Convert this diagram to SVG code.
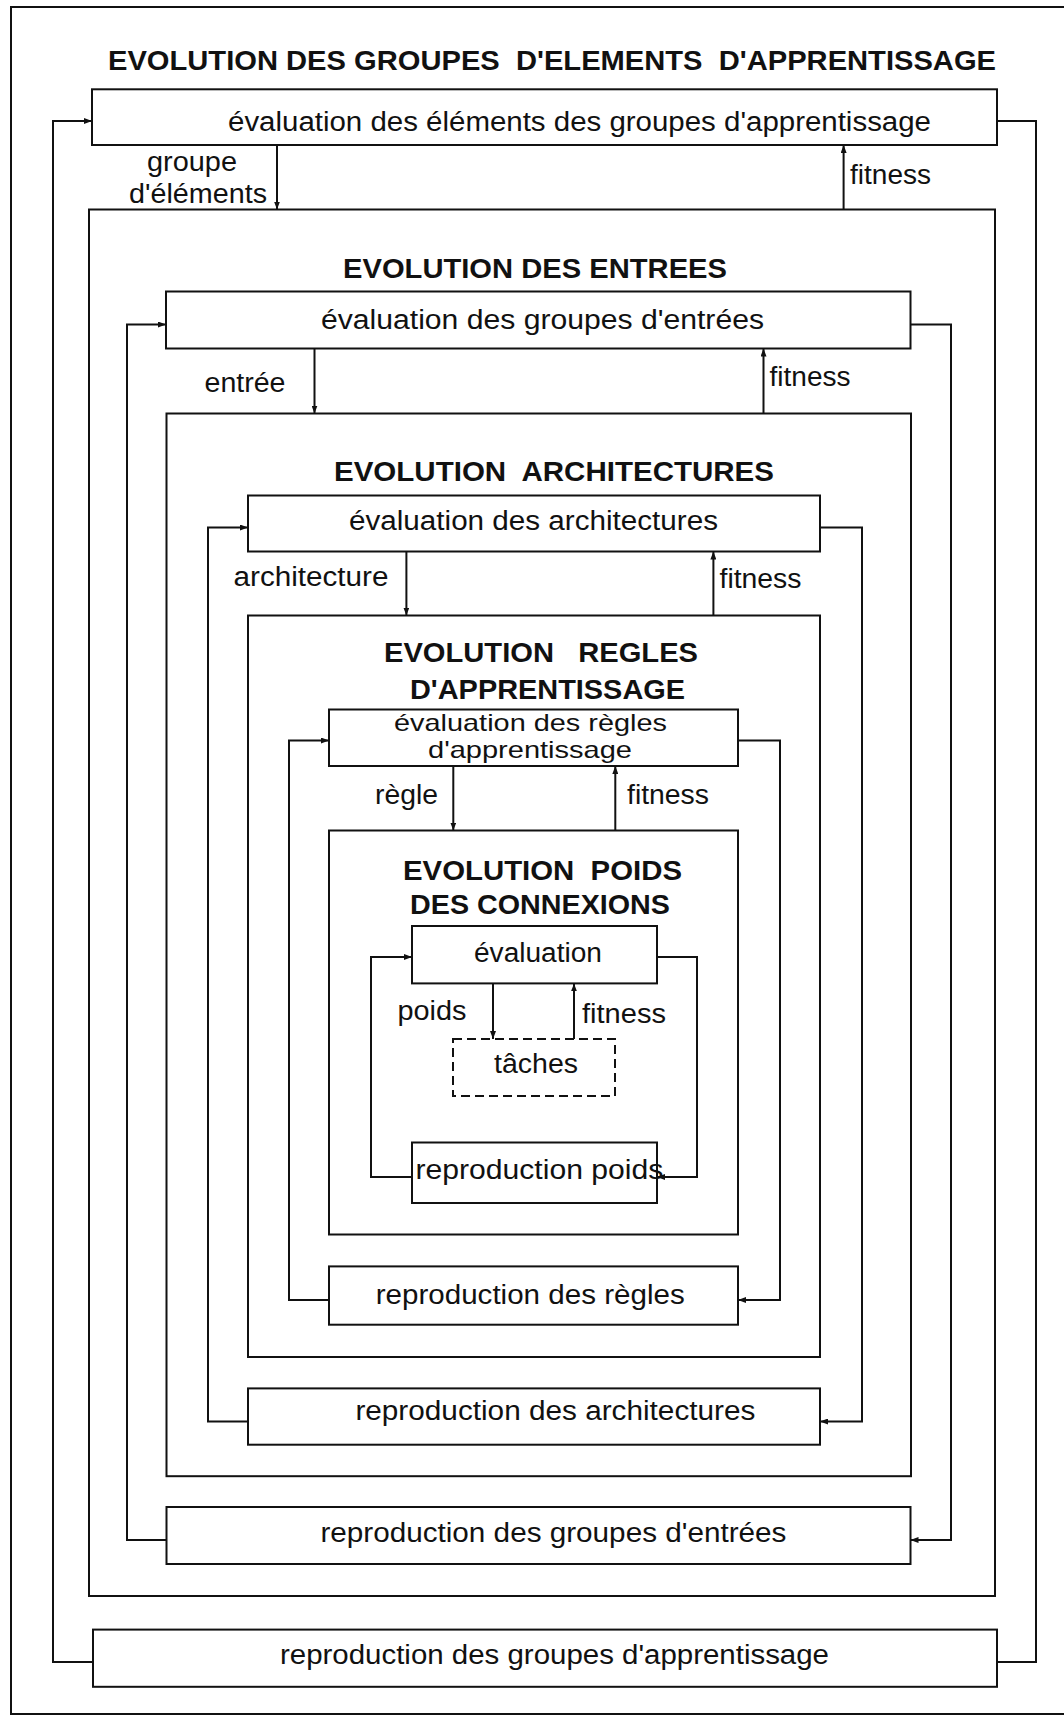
<svg xmlns="http://www.w3.org/2000/svg" width="1064" height="1718" viewBox="0 0 1064 1718">
  <style>
    .box { fill: none; stroke: #111; stroke-width: 2; }
    .dash { fill: none; stroke: #111; stroke-width: 2; stroke-dasharray: 9 5; }
    .con { fill: none; stroke: #111; stroke-width: 2; }
    .arr { marker-end: url(#ah); }
    text { font-family: "Liberation Sans", Arial, sans-serif; fill: #111; }
    .t { font-size: 27px; }
    .s { font-size: 24px; }
    .h { font-size: 28px; font-weight: bold; }
  </style>
  <defs>
    <marker id="ah" viewBox="0 0 8 6" refX="8" refY="3" markerWidth="8" markerHeight="6" markerUnits="userSpaceOnUse" orient="auto">
      <path d="M0,0 L8,3 L0,6 z" fill="#111"/>
    </marker>
  </defs>
  <rect x="0" y="0" width="1064" height="1718" fill="#fff"/>
  <!-- page frame (right edge runs off the sheet) -->
  <rect id="frame" class="box" x="11" y="7" width="1060" height="1707"/>

  <!-- level 1: groups of learning elements -->
  <g id="lvl1">
    <text class="h" x="108" y="70" textLength="888" lengthAdjust="spacingAndGlyphs" xml:space="preserve">EVOLUTION DES GROUPES  D'ELEMENTS  D'APPRENTISSAGE</text>
  </g>
  <g id="eval-elements">
    <rect class="box" x="92" y="89.3" width="905" height="55.7"/>
    <text class="t" x="228" y="131" textLength="703" lengthAdjust="spacingAndGlyphs">évaluation des éléments des groupes d'apprentissage</text>
  </g>
  <g id="repro-apprentissage">
    <rect class="box" x="93" y="1629.6" width="904" height="57.2"/>
    <text class="t" x="280" y="1663.5" textLength="549" lengthAdjust="spacingAndGlyphs">reproduction des groupes d'apprentissage</text>
  </g>

  <!-- level 2: inputs -->
  <g id="lvl2">
    <rect class="box" x="89" y="209.5" width="906" height="1386.5"/>
    <text class="h" x="343" y="277.5" textLength="384" lengthAdjust="spacingAndGlyphs">EVOLUTION DES ENTREES</text>
  </g>
  <g id="eval-entrees">
    <rect class="box" x="166" y="291.5" width="744.5" height="57"/>
    <text class="t" x="321" y="329" textLength="443" lengthAdjust="spacingAndGlyphs">évaluation des groupes d'entrées</text>
  </g>
  <g id="repro-entrees">
    <rect class="box" x="166.5" y="1507" width="744" height="57"/>
    <text class="t" x="320.4" y="1542" textLength="466" lengthAdjust="spacingAndGlyphs">reproduction des groupes d'entrées</text>
  </g>

  <!-- level 3: architectures -->
  <g id="lvl3">
    <rect class="box" x="166.5" y="413.5" width="744.5" height="1062.7"/>
    <text class="h" x="334" y="481.4" textLength="440" lengthAdjust="spacingAndGlyphs" xml:space="preserve">EVOLUTION  ARCHITECTURES</text>
  </g>
  <g id="eval-arch">
    <rect class="box" x="248" y="495.5" width="572" height="56"/>
    <text class="t" x="349" y="530" textLength="369" lengthAdjust="spacingAndGlyphs">évaluation des architectures</text>
  </g>
  <g id="repro-arch">
    <rect class="box" x="248" y="1388.4" width="572" height="56.3"/>
    <text class="t" x="355.4" y="1419.6" textLength="400" lengthAdjust="spacingAndGlyphs">reproduction des architectures</text>
  </g>

  <!-- level 4: learning rules -->
  <g id="lvl4">
    <rect class="box" x="248" y="615.5" width="572" height="741.5"/>
    <text class="h" x="384" y="661.5" textLength="314" lengthAdjust="spacingAndGlyphs" xml:space="preserve">EVOLUTION   REGLES</text>
    <text class="h" x="410" y="698.5" textLength="275" lengthAdjust="spacingAndGlyphs">D'APPRENTISSAGE</text>
  </g>
  <g id="eval-regles">
    <rect class="box" x="329" y="709.5" width="409" height="56.5"/>
    <text class="s" x="394" y="731" textLength="273" lengthAdjust="spacingAndGlyphs">évaluation des règles</text>
    <text class="s" x="428" y="758" textLength="204" lengthAdjust="spacingAndGlyphs">d'apprentissage</text>
  </g>
  <g id="repro-regles">
    <rect class="box" x="329" y="1266.4" width="409" height="58.3"/>
    <text class="t" x="375.7" y="1303.5" textLength="309" lengthAdjust="spacingAndGlyphs">reproduction des règles</text>
  </g>

  <!-- level 5: connection weights -->
  <g id="lvl5">
    <rect class="box" x="329" y="830.5" width="409" height="404"/>
    <text class="h" x="403" y="880.3" textLength="279" lengthAdjust="spacingAndGlyphs" xml:space="preserve">EVOLUTION  POIDS</text>
    <text class="h" x="410" y="914" textLength="260" lengthAdjust="spacingAndGlyphs">DES CONNEXIONS</text>
  </g>
  <g id="eval-poids">
    <rect class="box" x="412" y="926" width="245" height="57.4"/>
    <text class="t" x="474" y="961.7" textLength="128" lengthAdjust="spacingAndGlyphs">évaluation</text>
  </g>
  <g id="taches">
    <rect class="dash" x="453" y="1039" width="162" height="57"/>
    <text class="t" x="494" y="1073" textLength="84" lengthAdjust="spacingAndGlyphs">tâches</text>
  </g>
  <g id="repro-poids">
    <rect class="box" x="412" y="1142.5" width="245" height="60.5"/>
    <text class="t" x="415.4" y="1178.5" textLength="248" lengthAdjust="spacingAndGlyphs">reproduction poids</text>
  </g>

  <!-- connectors -->
  <g id="connectors">
    <path class="con arr" d="M277,145 V209.5"/>
    <path class="con arr" d="M843.6,209.5 V145"/>
    <path class="con arr" d="M93,1662 H53 V121 H92"/>
    <path class="con" d="M997,121 H1036 V1662 H997"/>

    <path class="con arr" d="M314.5,348.5 V413.5"/>
    <path class="con arr" d="M763.5,413.5 V348.5"/>
    <path class="con arr" d="M166.5,1540 H127 V324.5 H166"/>
    <path class="con arr" d="M910.5,324.5 H951 V1540 H910.5"/>

    <path class="con arr" d="M406.4,551.5 V615.5"/>
    <path class="con arr" d="M713.4,615.5 V551.5"/>
    <path class="con arr" d="M248,1421.5 H208 V527.5 H248"/>
    <path class="con arr" d="M820,527.5 H862 V1421.5 H820"/>

    <path class="con arr" d="M453.3,766 V830.5"/>
    <path class="con arr" d="M615.3,830.5 V766"/>
    <path class="con arr" d="M329,1300 H289 V740.5 H329"/>
    <path class="con arr" d="M738,740.5 H780 V1300 H738"/>

    <path class="con arr" d="M493,983.4 V1039"/>
    <path class="con arr" d="M574,1039 V983.4"/>
    <path class="con arr" d="M412,1177 H371 V957 H412"/>
    <path class="con arr" d="M657,957 H697 V1177 H657"/>
  </g>

  <!-- connector labels -->
  <g id="labels">
    <text class="t" x="147" y="171" textLength="90" lengthAdjust="spacingAndGlyphs">groupe</text>
    <text class="t" x="129" y="203" textLength="138" lengthAdjust="spacingAndGlyphs">d'éléments</text>
    <text class="t" x="850" y="184" textLength="81" lengthAdjust="spacingAndGlyphs">fitness</text>
    <text class="t" x="204.5" y="391.5" textLength="81" lengthAdjust="spacingAndGlyphs">entrée</text>
    <text class="t" x="769.5" y="386.4" textLength="81" lengthAdjust="spacingAndGlyphs">fitness</text>
    <text class="t" x="233.5" y="585.8" textLength="155" lengthAdjust="spacingAndGlyphs">architecture</text>
    <text class="t" x="719.5" y="588" textLength="82" lengthAdjust="spacingAndGlyphs">fitness</text>
    <text class="t" x="375" y="804.3" textLength="63" lengthAdjust="spacingAndGlyphs">règle</text>
    <text class="t" x="627" y="804" textLength="82" lengthAdjust="spacingAndGlyphs">fitness</text>
    <text class="t" x="397.5" y="1019.5" textLength="69" lengthAdjust="spacingAndGlyphs">poids</text>
    <text class="t" x="582" y="1022.5" textLength="84" lengthAdjust="spacingAndGlyphs">fitness</text>
  </g>
</svg>
